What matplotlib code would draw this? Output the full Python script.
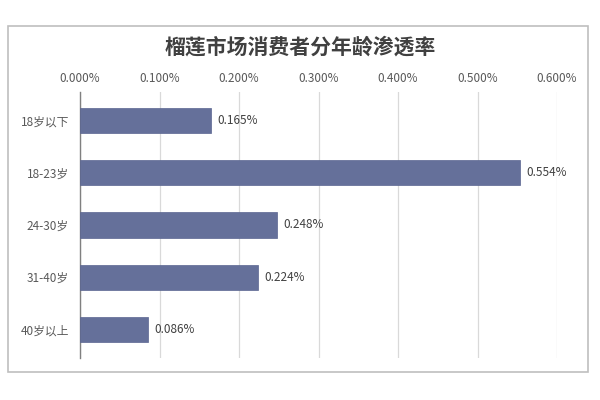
import matplotlib.pyplot as plt
from matplotlib.patches import Rectangle
from matplotlib.ticker import FuncFormatter

plt.rcParams['font.family'] = ['Noto Sans CJK SC', 'DejaVu Sans']

ages = ['18岁以下', '18-23岁', '24-30岁', '31-40岁', '40岁以上']
rates = [0.165, 0.554, 0.248, 0.224, 0.086]  # percent
xticks = [0.0, 0.1, 0.2, 0.3, 0.4, 0.5, 0.6]

fig = plt.figure(figsize=(6, 4), dpi=100)

# chart frame
fig.patches.append(Rectangle((8 / 600, 1 - 372 / 400), 580 / 600, 346 / 400,
                             transform=fig.transFigure, fill=False,
                             edgecolor='#BFBFBF', linewidth=1.2))

ax = fig.add_axes([80 / 600, 1 - 358 / 400, 477 / 600, 266 / 400])
pos = list(range(len(ages)))
ax.barh(pos, rates, height=0.48, color='#65709A', edgecolor='#5A6590', linewidth=0.5, zorder=3)
for p, r in zip(pos, rates):
    ax.text(r + 0.008, p, f'{r:.3f}%', va='center', ha='left', fontsize=8.5, color='#404040')

ax.set_xlim(0, 0.6)
ax.set_ylim(len(ages) - 0.45, -0.55)
ax.set_yticks(pos)
ax.set_yticklabels(ages)
ax.set_xticks(xticks)
ax.xaxis.set_major_formatter(FuncFormatter(lambda v, _: f'{v:.3f}%'))
ax.xaxis.tick_top()
ax.tick_params(axis='both', length=0, labelsize=8.5, labelcolor='#595959')
ax.tick_params(axis='x', pad=5)
ax.tick_params(axis='y', pad=8)
ax.grid(axis='x', color='#D9D9D9', linewidth=0.9, zorder=0)
for s in ['top', 'right', 'bottom']:
    ax.spines[s].set_visible(False)
ax.spines['left'].set_color('#808080')
ax.spines['left'].set_linewidth(1.0)

fig.text(0.5, 1 - 47 / 400, '榴莲市场消费者分年龄渗透率', ha='center', va='center',
         fontsize=15, fontweight='bold', color='#404040')

plt.savefig('out.png', dpi=100)
plt.close()
